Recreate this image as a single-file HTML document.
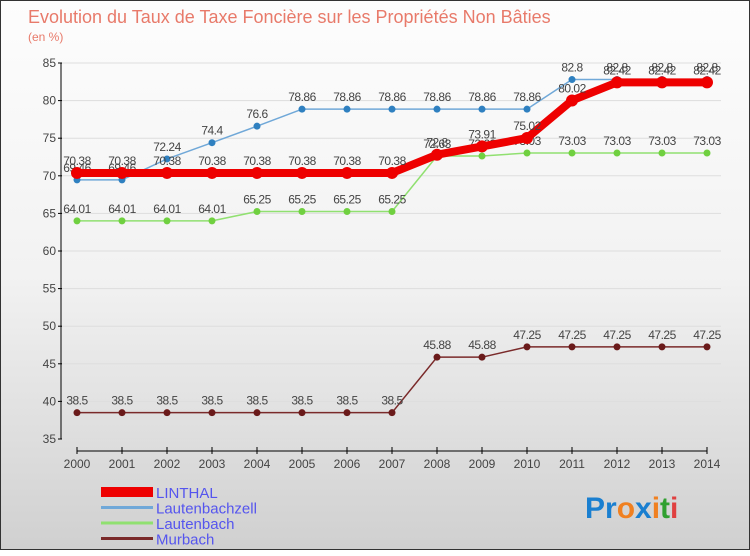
<!DOCTYPE html>
<html><head><meta charset="utf-8"><style>
body{margin:0;width:750px;height:550px;overflow:hidden;font-family:"Liberation Sans",sans-serif}
#wrap{position:absolute;left:0;top:0;width:748px;height:548px;border:1px solid #333;background:linear-gradient(#fdfdfd,#f2f2f2 50%,#d0d0d0)}
</style></head><body>
<div id="wrap">
<svg id="chart" width="750" height="550">
<text x="27" y="22" font-size="18" fill="#e87a6a">Evolution du Taux de Taxe Foncière sur les Propriétés Non Bâties</text>
<text x="27" y="40" font-size="12" fill="#e87a6a">(en %)</text>
<g id="grid"></g><g id="axes"></g><g id="series"></g><g id="legend"></g>
<text x="584" y="517" font-size="30" font-weight="bold"><tspan fill="#1a7fd0">Pr</tspan><tspan fill="#f08020">o</tspan><tspan fill="#1a7fd0">x</tspan><tspan fill="#f08020">i</tspan><tspan fill="#30a030">t</tspan><tspan fill="#e04040">i</tspan></text>
</svg></div>
<script>
const years=[2000,2001,2002,2003,2004,2005,2006,2007,2008,2009,2010,2011,2012,2013,2014];
const yTicks=[35,40,45,50,55,60,65,70,75,80,85];
const linthal=[70.38,70.38,70.38,70.38,70.38,70.38,70.38,70.38,72.8,73.91,75.02,80.02,82.42,82.42,82.42];
const lautenbachzell=[69.46,69.46,72.24,74.4,76.6,78.86,78.86,78.86,78.86,78.86,78.86,82.8,82.8,82.8,82.8];
const lautenbach=[64.01,64.01,64.01,64.01,65.25,65.25,65.25,65.25,72.63,72.63,73.03,73.03,73.03,73.03,73.03];
const murbach=[38.5,38.5,38.5,38.5,38.5,38.5,38.5,38.5,45.88,45.88,47.25,47.25,47.25,47.25,47.25];
const NS="http://www.w3.org/2000/svg";
const X=i=>76+i*(630/14), Y=v=>438-(v-35)*7.52;
function mk(p,t,a){const e=document.createElementNS(NS,t);for(const k in a)e.setAttribute(k,a[k]);p.appendChild(e);return e;}
const grid=document.getElementById('grid'),axes=document.getElementById('axes'),ser=document.getElementById('series'),leg=document.getElementById('legend');
yTicks.forEach(v=>{
 const l=mk(grid,'line',{x1:60,x2:720,y1:Y(v),y2:Y(v),stroke:'#ddd'});
 
 
 const t=mk(axes,'text',{x:55,y:Y(v)+4,'font-size':12,fill:'#444','text-anchor':'end'});t.textContent=v;
 
 
 mk(axes,'line',{x1:57,x2:61,y1:Y(v),y2:Y(v),stroke:'#000'});
});
mk(axes,'line',{x1:60,x2:60,y1:Y(85),y2:Y(35),stroke:'#000'});
mk(axes,'line',{x1:76,x2:706,y1:450,y2:450,stroke:'#000'});
years.forEach((yr,i)=>{
 mk(axes,'line',{x1:X(i),x2:X(i),y1:446,y2:453,stroke:'#000'});
 const t=mk(axes,'text',{x:X(i),y:467,'font-size':12,fill:'#444','text-anchor':'middle'});t.textContent=yr;
 
 
});
const S=[
 {n:'Murbach',d:murbach,c:'#7a2a2a',w:1.5,r:3.5,f:'#6a1a1a'},
 {n:'Lautenbach',d:lautenbach,c:'#90e070',w:1.5,r:3.5,f:'#70d040'},
 {n:'Lautenbachzell',d:lautenbachzell,c:'#70a8d8',w:1.5,r:3.5,f:'#2f80c0'},
 {n:'LINTHAL',d:linthal,c:'#ee0000',w:8,r:6,f:'#ee0000'}];
S.forEach(s=>{
 const g=mk(ser,'g',{});
 
 
 mk(g,'polyline',{points:s.d.map((v,i)=>X(i)+','+Y(v)).join(' '),fill:'none',stroke:s.c,'stroke-width':s.w,'stroke-linejoin':'round'});
 s.d.forEach((v,i)=>{
  const c=mk(g,'circle',{cx:X(i),cy:Y(v),r:s.r,fill:s.f});
  
  
  const t=mk(g,'text',{x:X(i),y:Y(v)-8,'font-size':12,fill:'#444','text-anchor':'middle','letter-spacing':'-0.5'});t.textContent=v;
  
  
 });
});
[...S].reverse().forEach((s,k)=>{
 const y=491+k*15.5;
 mk(leg,'line',{x1:100,x2:152,y1:y,y2:y,stroke:s.c,'stroke-width':s.n=='LINTHAL'?10:3});
 const t=mk(leg,'text',{x:155,y:y+6,'font-size':15,fill:'#5555ee'});t.textContent=s.n;
 
 
});
</script>
</body></html>
